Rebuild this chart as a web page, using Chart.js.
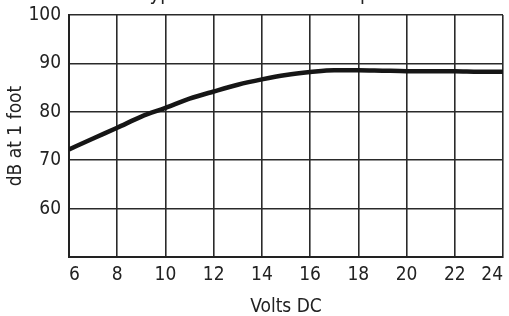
<!DOCTYPE html>
<html>
<head>
<meta charset="utf-8">
<script src="https://cdn.jsdelivr.net/npm/chart.js@4/dist/chart.umd.min.js"></script>
<style>
  html, body { margin: 0; padding: 0; background: #fff; }
  #wrap { width: 509px; height: 316px; position: relative; }
</style>
</head>
<body>
<div id="wrap"><canvas id="chart"></canvas></div>
<script>
// Werte
const chartTitle = 'Typical Performance Response';
const volts = [6, 7, 8, 9, 10, 11, 12, 13, 14, 15, 16, 17, 18, 19, 20, 21, 22, 23, 24];
const dbValues = [72.2, 74.5, 76.7, 79.0, 80.8, 82.7, 84.2, 85.6, 86.7, 87.6, 88.2, 88.6, 88.6, 88.5, 88.4, 88.4, 88.4, 88.3, 88.3];
const xTicks = [6, 8, 10, 12, 14, 16, 18, 20, 22, 24];
const yTicks = [60, 70, 80, 90, 100];

const FONT = '"DejaVu Sans Condensed", "Liberation Sans Narrow", sans-serif';

// Titel, der oben fast abgeschnitten ist
const topTitle = {
    id: 'topTitle',
    afterDraw(chart) {
        const ctx = chart.ctx;
        ctx.save();
        ctx.font = '20px ' + FONT;
        ctx.fillStyle = '#222';
        ctx.textAlign = 'center';
        ctx.textBaseline = 'alphabetic';
        ctx.fillText(chartTitle, 278, 0);
        ctx.restore();
    }
};

new Chart(document.getElementById('chart'), {
    type: 'line',
    data: {
        datasets: [{
            data: volts.map((v, i) => ({ x: v, y: dbValues[i] })),
            borderColor: '#161616',
            borderWidth: 4.5,
            pointRadius: 0,
            cubicInterpolationMode: 'monotone',
            fill: false
        }]
    },
    options: {
        responsive: true,
        maintainAspectRatio: false,
        animation: false,
        layout: { padding: { top: 15, right: 6, left: 0, bottom: 0 } },
        plugins: { legend: { display: false }, tooltip: { enabled: false } },
        scales: {
            x: {
                type: 'linear',
                min: 6,
                max: 24,
                afterBuildTicks(scale) { scale.ticks = xTicks.map(v => ({ value: v })); },
                afterFit(scale) { scale.height = 59; scale.paddingLeft = 0; scale.paddingRight = 0; },
                grid: { color: '#2a2a2a', lineWidth: 1.6, drawTicks: false },
                border: { color: '#222', width: 2 },
                ticks: { color: '#222', padding: 7, align: 'inner', font: { family: FONT, size: 19 }, maxRotation: 0 },
                title: { display: true, text: 'Volts DC', color: '#222', padding: { top: 0, bottom: -2 }, font: { family: FONT, size: 19 } }
            },
            y: {
                min: 50,
                max: 100,
                afterBuildTicks(scale) { scale.ticks = [50].concat(yTicks).map(v => ({ value: v })); },
                afterFit(scale) { scale.width = 69; scale.paddingTop = 0; scale.paddingBottom = 0; },
                grid: { color: '#2a2a2a', lineWidth: 1.6, drawTicks: false },
                border: { color: '#222', width: 2 },
                ticks: {
                    color: '#222', padding: 8, font: { family: FONT, size: 19 },
                    callback: v => (v === 50 ? '' : v)
                },
                title: { display: true, text: 'dB at 1 foot', color: '#222', padding: { top: 5, bottom: 0 }, font: { family: FONT, size: 19 } }
            }
        }
    },
    plugins: [topTitle]
});
</script>
</body>
</html>
